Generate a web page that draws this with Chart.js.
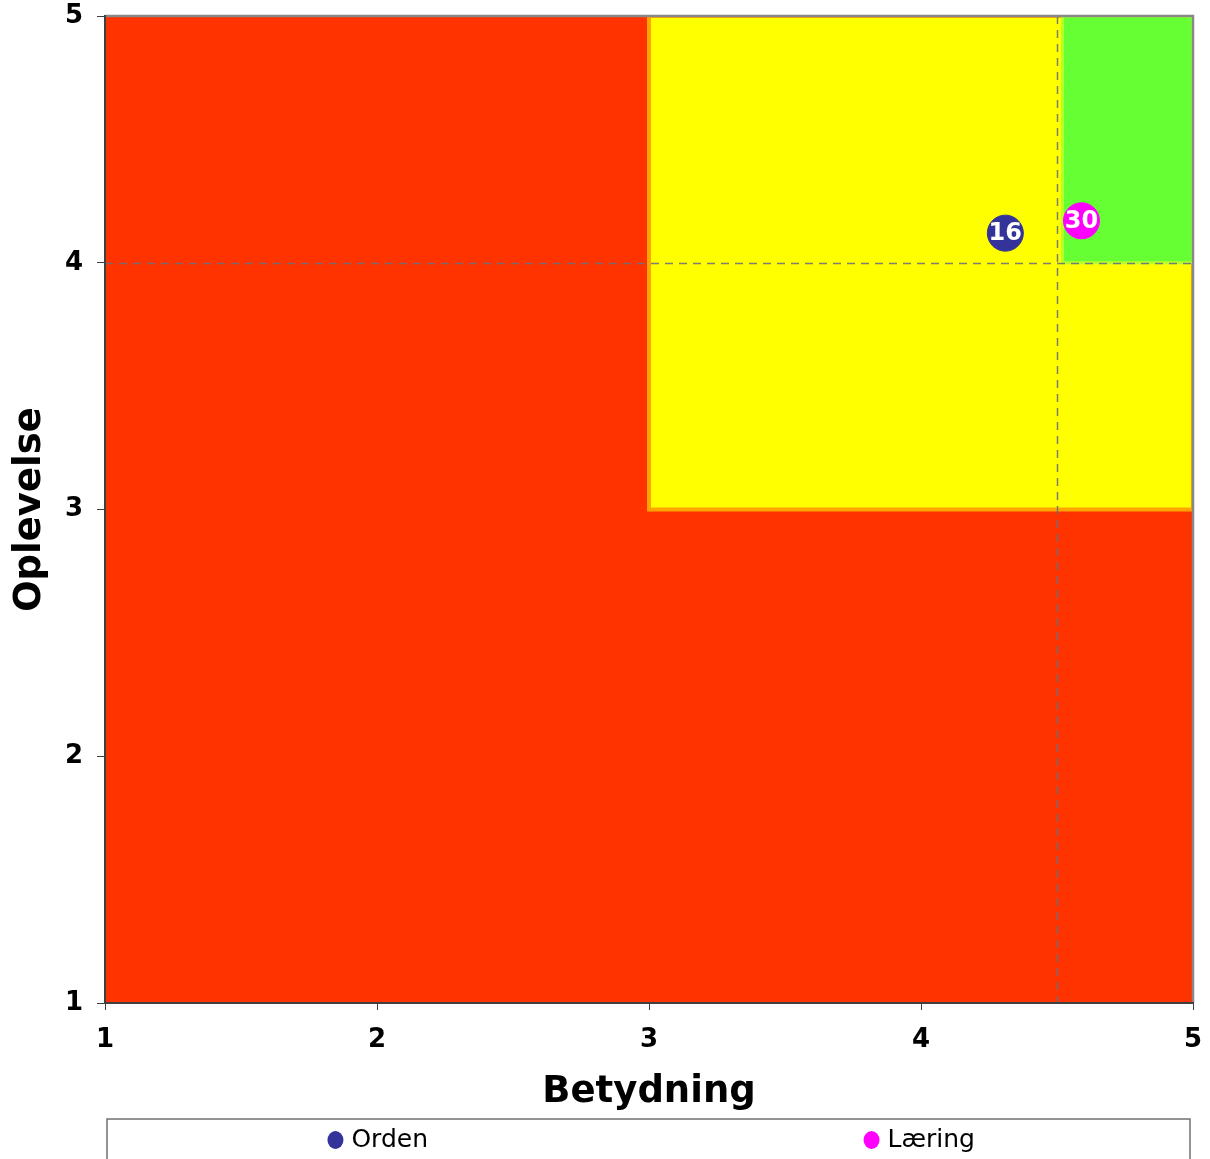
<!DOCTYPE html>
<html>
<head>
<meta charset="utf-8">
<script src="https://cdn.jsdelivr.net/npm/chart.js@4/dist/chart.umd.min.js"></script>
<style>
  html, body { margin: 0; padding: 0; background: #fff; }
  #wrap { width: 1210px; height: 1159px; }
</style>
</head>
<body>
<div id="wrap"><canvas id="c" width="1210" height="1159"></canvas></div>
<script>
// Series: mean "Betydning" (x) and "Oplevelse" (y) per theme, with respondent count
const seriesNames = ['Orden', 'Læring'];
const seriesColors = ['#333399', '#FF00FF'];
const betydning = [4.31, 4.59];
const oplevelse = [4.12, 4.17];
const counts = [16, 30];

const axisTicks = [1, 2, 3, 4, 5];

// Background zones (x from..to, y from..to)
const zoneNames = ['rød', 'gul', 'grøn'];
const zoneX0 = [1, 3, 4.52];
const zoneX1 = [5, 5, 5];
const zoneY0 = [1, 3, 4];
const zoneY1 = [5, 5, 5];
const zoneFill = ['#FF3300', '#FFFF00', '#66FF33'];
const zoneEdge = [null, '#FFA500', '#B8FF2A'];

// Dashed reference lines
const refX = [4.5];
const refY = [4];

const FONT = "'DejaVu Sans', Verdana, sans-serif";

// fixed axis box sizes, no extra overhang padding
function fixBox(size) {
  return s => {
    if (s.isHorizontal()) s.height = size; else s.width = size;
    s.paddingTop = 0; s.paddingBottom = 0; s.paddingLeft = 0; s.paddingRight = 0;
  };
}

const zonePlugin = {
  id: 'zones',
  beforeDraw(chart) {
    const { ctx, chartArea: a, scales: { x, y } } = chart;
    ctx.save();
    ctx.beginPath();
    ctx.rect(a.left, a.top, a.right - a.left, a.bottom - a.top);
    ctx.clip();
    zoneNames.forEach((_, i) => {
      const l = x.getPixelForValue(zoneX0[i]);
      const r = x.getPixelForValue(zoneX1[i]);
      const t = y.getPixelForValue(zoneY1[i]);
      const b = y.getPixelForValue(zoneY0[i]);
      ctx.fillStyle = zoneFill[i];
      ctx.fillRect(l, t, r - l, b - t);
      if (zoneEdge[i]) {
        ctx.strokeStyle = zoneEdge[i];
        ctx.lineWidth = i === 1 ? 4 : 3;
        ctx.strokeRect(l, t, r - l, b - t);
      }
    });
    // reference lines
    ctx.strokeStyle = 'rgba(110,110,125,0.9)';
    ctx.lineWidth = 1.5;
    ctx.setLineDash([8, 6]);
    refX.forEach(v => {
      const px = Math.round(x.getPixelForValue(v)) + 0.5;
      ctx.beginPath(); ctx.moveTo(px, a.top); ctx.lineTo(px, a.bottom); ctx.stroke();
    });
    refY.forEach(v => {
      const py = Math.round(y.getPixelForValue(v)) + 0.5;
      ctx.beginPath(); ctx.moveTo(a.left, py); ctx.lineTo(a.right, py); ctx.stroke();
    });
    ctx.restore();
    // top and right frame
    ctx.save();
    ctx.strokeStyle = '#888888';
    ctx.lineWidth = 2.5;
    ctx.beginPath();
    ctx.moveTo(a.left, a.top);
    ctx.lineTo(a.right, a.top);
    ctx.lineTo(a.right, a.bottom);
    ctx.stroke();
    ctx.restore();
  },
  afterDatasetsDraw(chart) {
    const { ctx } = chart;
    ctx.save();
    ctx.fillStyle = '#FFFFFF';
    ctx.font = `bold 24px ${FONT}`;
    ctx.textAlign = 'center';
    ctx.textBaseline = 'middle';
    chart.data.datasets.forEach((ds, i) => {
      const el = chart.getDatasetMeta(i).data[0];
      ctx.fillText(String(counts[i]), el.x, el.y + 1);
    });
    ctx.restore();
  },
  afterDraw(chart) {
    // legend box along the bottom
    const { ctx, chartArea: a } = chart;
    const boxL = a.left + 2, boxR = a.right - 3, boxT = 1119;
    ctx.save();
    ctx.strokeStyle = '#707070';
    ctx.lineWidth = 1.5;
    ctx.beginPath();
    ctx.moveTo(boxL, chart.height + 2);
    ctx.lineTo(boxL, boxT);
    ctx.lineTo(boxR, boxT);
    ctx.lineTo(boxR, chart.height + 2);
    ctx.stroke();
    const n = chart.data.datasets.length;
    const colW = (boxR - boxL) / n;
    ctx.font = `25px ${FONT}`;
    ctx.textBaseline = 'middle';
    ctx.textAlign = 'left';
    chart.data.datasets.forEach((ds, i) => {
      const tw = ctx.measureText(ds.label).width;
      const itemW = 16 + 8 + tw;
      const cx = boxL + colW * (i + 0.5);
      const x0 = cx - itemW / 2;
      const cy = 1140;
      ctx.fillStyle = ds.backgroundColor;
      ctx.beginPath();
      ctx.ellipse(x0 + 8, cy, 8, 9, 0, 0, Math.PI * 2);
      ctx.fill();
      ctx.fillStyle = '#000';
      ctx.fillText(ds.label, x0 + 24, cy);
    });
    ctx.restore();
  }
};

const tickFont = { family: FONT, size: 26, weight: 'bold' };
const titleFont = { family: FONT, size: 37, weight: 'bold', lineHeight: 1.2 };

new Chart(document.getElementById('c'), {
  type: 'scatter',
  data: {
    datasets: seriesNames.map((name, i) => ({
      label: name,
      data: [{ x: betydning[i], y: oplevelse[i] }],
      backgroundColor: seriesColors[i],
      borderColor: seriesColors[i],
      borderWidth: 1,
      pointRadius: 18,
      pointHoverRadius: 18
    }))
  },
  options: {
    responsive: false,
    animation: false,
    devicePixelRatio: 1,
    layout: { autoPadding: false, padding: { top: 16, right: 17, bottom: 43, left: 0 } },
    plugins: { legend: { display: false }, tooltip: { enabled: false } },
    scales: {
      x: {
        type: 'linear',
        min: axisTicks[0],
        max: axisTicks[axisTicks.length - 1],
        afterBuildTicks: s => { s.ticks = axisTicks.map(v => ({ value: v })); },
        afterFit: fixBox(113),
        ticks: { font: tickFont, color: '#000', padding: 15, maxRotation: 0 },
        grid: { drawOnChartArea: false, drawTicks: true, tickLength: 7, color: '#404040', lineWidth: 1 },
        border: { display: true, color: '#404040', width: 2 },
        title: { display: true, text: 'Betydning', font: titleFont, color: '#000', padding: { top: 0, bottom: 1 } }
      },
      y: {
        type: 'linear',
        min: axisTicks[0],
        max: axisTicks[axisTicks.length - 1],
        afterBuildTicks: s => { s.ticks = axisTicks.map(v => ({ value: v })); },
        afterFit: fixBox(105),
        ticks: { font: tickFont, color: '#000', padding: 14 },
        grid: { drawOnChartArea: false, drawTicks: true, tickLength: 8, color: '#404040', lineWidth: 1 },
        border: { display: true, color: '#404040', width: 2 },
        title: { display: true, text: 'Oplevelse', font: titleFont, color: '#000', padding: { top: 8, bottom: 0 } }
      }
    }
  },
  plugins: [zonePlugin]
});
</script>
</body>
</html>
